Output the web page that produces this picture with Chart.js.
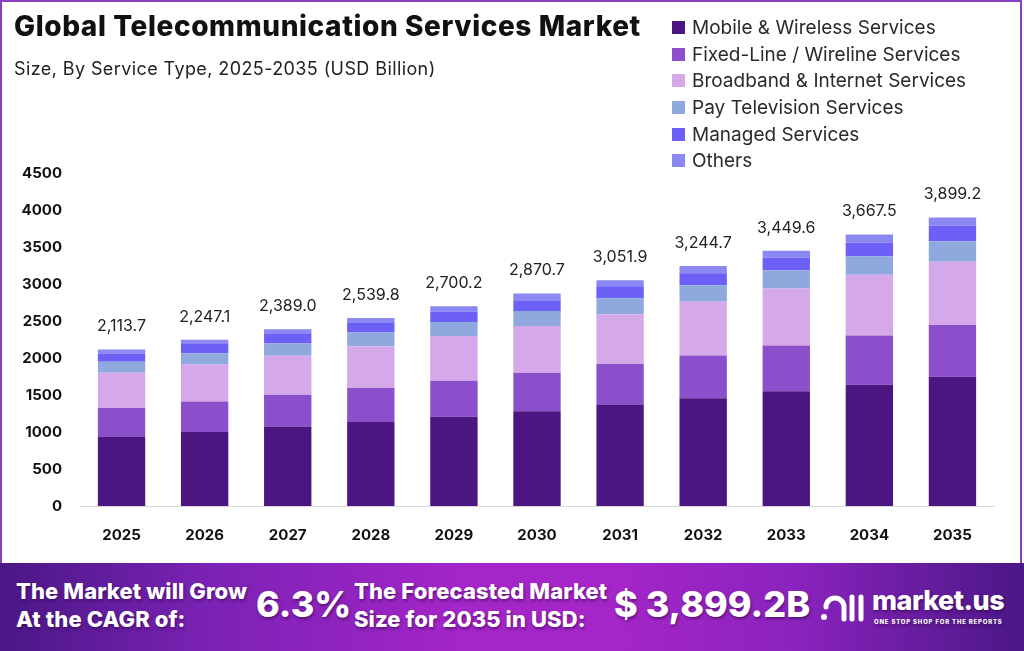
<!DOCTYPE html>
<html>
<head>
<meta charset="utf-8">
<script src="https://cdn.jsdelivr.net/npm/chart.js@4"></script>
<style>
  html, body { margin: 0; padding: 0; background: #fff; }
  body { width: 1024px; height: 651px; position: relative; overflow: hidden; font-family: Inter, "Open Sans", sans-serif; }
  #card { position: absolute; left: 0; top: 0; width: 1018px; height: 561px; border: 2px solid #8a3fc2; border-bottom: none; background: #fff; }
  #title { position: absolute; left: 14px; top: 9px; font-size: 28px; font-weight: 800; color: #111; letter-spacing: 0.6px; }
  #subtitle { position: absolute; left: 14px; top: 58px; font-size: 18px; color: #222; letter-spacing: 0.4px; }
  #legend { position: absolute; left: 672px; top: 14px; }
  .li { height: 26.7px; display: flex; align-items: center; font-size: 19px; color: #2a2a2a; }
  .sw { width: 13px; height: 13px; margin-right: 7px; }
  #wrap { position: absolute; left: 0; top: 0; width: 1024px; height: 560px; }
  #banner { position: absolute; left: 0; top: 563px; width: 1024px; height: 88px;
    background: linear-gradient(90deg, #4a1786 0%, #7a22b4 20%, #a425c8 45%, #a526c8 60%, #8a23bd 78%, #4a1786 100%); color: #fff; font-weight: 800; text-shadow: 1px 2px 3px rgba(40,0,60,0.5); }
  .b { position: absolute; }
</style>
</head>
<body>
<div id="card"></div>
<div id="wrap"><canvas id="myChart"></canvas></div>
<div id="title">Global Telecommunication Services Market</div>
<div id="subtitle">Size, By Service Type, 2025-2035 (USD Billion)</div>
<div id="legend"></div>
<div id="banner">
  <div class="b" style="left:16px;top:14px;font-size:22px;line-height:28px;letter-spacing:0.1px;">The Market will Grow<br>At the CAGR of:</div>
  <div class="b" style="left:256px;top:19px;font-size:36px;">6.3%</div>
  <div class="b" style="left:354px;top:14px;font-size:22px;line-height:28px;letter-spacing:0.1px;">The Forecasted Market<br>Size for 2035 in USD:</div>
  <div class="b" style="left:614px;top:19px;font-size:36px;">$ 3,899.2B</div>
  <svg class="b" style="left:820px;top:26px;" width="46" height="34" viewBox="0 0 46 34">
    <path d="M6 18 A9 9 0 0 1 24 18 L24 30" stroke="#fff" stroke-width="5" fill="none" stroke-linecap="round"/>
    <circle cx="4" cy="28" r="3" fill="#fff"/>
    <line x1="32" y1="8" x2="32" y2="30" stroke="#fff" stroke-width="5" stroke-linecap="round"/>
    <line x1="41" y1="8" x2="41" y2="30" stroke="#fff" stroke-width="5" stroke-linecap="round"/>
  </svg>
  <div class="b" style="left:872px;top:21px;font-size:27px;letter-spacing:-0.5px;">market.us</div>
  <div class="b" style="left:874px;top:55px;font-size:6px;letter-spacing:0.8px;">ONE STOP SHOP FOR THE REPORTS</div>
</div>
<script>
var years = ['2025', '2026', '2027', '2028', '2029', '2030', '2031', '2032', '2033', '2034', '2035'];
var seriesNames = ['Mobile & Wireless Services', 'Fixed-Line / Wireline Services', 'Broadband & Internet Services',
    'Pay Television Services', 'Managed Services', 'Others'];
var seriesColors = ['#4b1681', '#8b4fcc', '#d5a8ea', '#8fa8dd', '#6c60f7', '#8b88f1'];

var mobile     = [940, 1000, 1073, 1134, 1207, 1279, 1370, 1456, 1551, 1640, 1745];
var fixedLine  = [385, 413, 431, 462, 484, 520, 548, 578, 618, 664, 700];
var broadband  = [475, 500, 526, 562, 606, 632, 672, 726, 769, 822, 855];
var payTv      = [150, 150, 167, 187, 191, 203, 217, 222, 248, 248, 277];
var managed    = [110, 135, 127, 127, 136, 137, 163, 163, 168, 182, 210];
var others     = [53.7, 49.1, 65, 67.8, 76.2, 99.7, 81.9, 99.7, 95.6, 111.5, 112.2];
var totals     = [2113.7, 2247.1, 2389.0, 2539.8, 2700.2, 2870.7, 3051.9, 3244.7, 3449.6, 3667.5, 3899.2];
var yTicks     = [0, 500, 1000, 1500, 2000, 2500, 3000, 3500, 4000, 4500];

var seriesData = [mobile, fixedLine, broadband, payTv, managed, others];

var datasets = seriesNames.map(function (name, i) {
    return {
        label: name,
        data: seriesData[i],
        backgroundColor: seriesColors[i],
        borderWidth: 0,
        barPercentage: 0.57,
        categoryPercentage: 1
    };
});

// legend in html
var legend = document.getElementById('legend');
seriesNames.forEach(function (name, i) {
    var row = document.createElement('div');
    row.className = 'li';
    row.innerHTML = '<span class="sw" style="background:' + seriesColors[i] + '"></span>' + name;
    legend.appendChild(row);
});

var totalLabels = {
    id: 'totalLabels',
    afterDatasetsDraw: function (chart) {
        var ctx = chart.ctx;
        var top = chart.getDatasetMeta(chart.data.datasets.length - 1);
        ctx.save();
        ctx.font = '16px Inter, sans-serif';
        ctx.fillStyle = '#222';
        ctx.textAlign = 'center';
        ctx.textBaseline = 'middle';
        top.data.forEach(function (bar, i) {
            var txt = totals[i].toLocaleString('en-US', { minimumFractionDigits: 1, maximumFractionDigits: 1 });
            ctx.fillText(txt, bar.x, bar.y - 23);
        });
        ctx.restore();
    }
};

var ctx = document.getElementById('myChart').getContext('2d');
var myChart = new Chart(ctx, {
    type: 'bar',
    data: { labels: years, datasets: datasets },
    plugins: [totalLabels],
    options: {
        responsive: true,
        maintainAspectRatio: false,
        animation: false,
        layout: { padding: { top: 173, right: 30, left: 0, bottom: 0 } },
        plugins: { legend: { display: false }, tooltip: { enabled: false } },
        scales: {
            x: {
                stacked: true,
                grid: { display: false, drawTicks: false },
                border: { display: true, color: '#d8d8d8', width: 1 },
                ticks: { color: '#111', font: { family: 'Inter', size: 15, weight: 'bold' }, padding: 20 },
                afterFit: function (s) { s.height = 54; }
            },
            y: {
                stacked: true,
                min: 0,
                max: 4500,
                grid: { display: false, drawTicks: false },
                border: { display: false },
                afterBuildTicks: function (s) { s.ticks = yTicks.map(function (v) { return { value: v }; }); },
                ticks: {
                    color: '#111', font: { family: 'Inter', size: 15, weight: 'bold' }, padding: 18,
                    callback: function (v) { return String(v); }
                },
                afterFit: function (s) { s.width = 80; }
            }
        }
    }
});
</script>
</body>
</html>
